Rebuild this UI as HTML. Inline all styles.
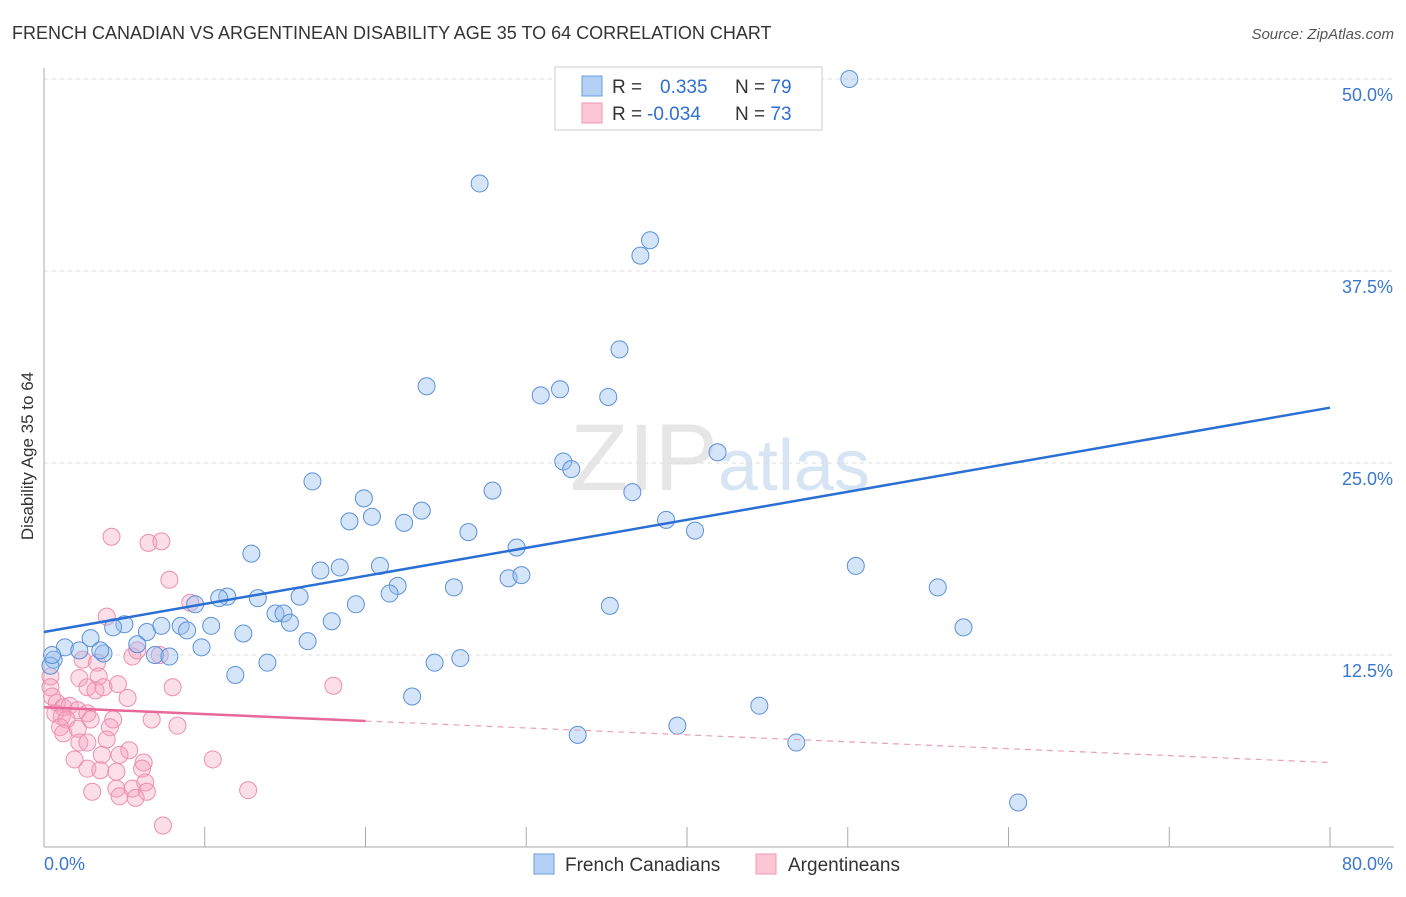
<!DOCTYPE html>
<html><head><meta charset="utf-8"><style>
body{margin:0;background:#fff;font-family:"Liberation Sans",sans-serif;}
svg text{font-family:"Liberation Sans",sans-serif;}
</style></head><body>
<svg id="chart" width="1406" height="892" xmlns="http://www.w3.org/2000/svg">
<text x="12" y="39" font-size="18" fill="#333">FRENCH CANADIAN VS ARGENTINEAN DISABILITY AGE 35 TO 64 CORRELATION CHART</text>
<text x="1394" y="39" font-size="15" fill="#555" text-anchor="end" font-style="italic">Source: ZipAtlas.com</text>
<text x="720" y="490" font-size="95" text-anchor="middle" fill="#e6e6e6" font-family="Liberation Serif">ZIP<tspan fill="#d6e4f4" font-family="Liberation Sans" font-size="72">atlas</tspan></text>
<g id="grid"></g>
<g id="axes"></g>
<g id="marks"></g>
<text transform="translate(33,456) rotate(-90)" font-size="17" fill="#333" text-anchor="middle">Disability Age 35 to 64</text>
<g>
<rect x="555" y="67" width="267" height="63" fill="#fff" stroke="#ccc"/>
<rect x="582" y="76" width="20" height="20" fill="#b5d0f5" stroke="#6d9de0"/>
<rect x="582" y="103" width="20" height="20" fill="#fbc6d6" stroke="#ef9ab5"/>
<text x="612" y="93" font-size="19" fill="#333">R =  <tspan fill="#2f6fd0" x="660">0.335</tspan><tspan fill="#333" x="735">N = </tspan><tspan fill="#2f6fd0">79</tspan></text>
<text x="612" y="120" font-size="19" fill="#333">R = <tspan fill="#2f6fd0" x="647">-0.034</tspan><tspan fill="#333" x="735">N = </tspan><tspan fill="#2f6fd0">73</tspan></text>
</g>
<g>
<rect x="534" y="854" width="20" height="20" fill="#b5d0f5" stroke="#6d9de0"/>
<text x="565" y="871" font-size="19" fill="#333">French Canadians</text>
<rect x="756" y="854" width="20" height="20" fill="#fbc6d6" stroke="#ef9ab5"/>
<text x="788" y="871" font-size="19" fill="#333">Argentineans</text>
</g>
</svg>
<script>
const xTicks=[0,10,20,30,40,50,60,70,80];
const yTicks=[12.5,25,37.5,50];
const yTickLabels=["12.5%","25.0%","37.5%","50.0%"];
const blueX=[50.1,27.1,37.7,37.1,35.8,23.8,30.9,32.1,35.1,41.9,32.3,32.8,16.7,27.9,36.6,19.9,20.4,19.0,23.5,22.4,26.4,38.7,40.5,29.4,12.9,17.2,18.4,20.9,28.9,29.7,22.0,21.5,25.5,50.5,55.6,11.4,10.9,13.3,15.9,9.4,19.4,35.2,14.4,14.9,15.3,17.9,16.4,5.0,4.3,6.4,7.3,8.5,8.9,10.4,12.4,9.8,2.9,1.3,2.2,3.7,6.9,7.8,3.5,5.8,13.9,11.9,24.3,25.9,0.6,0.4,22.9,44.5,39.4,33.2,46.8,60.6,57.2,0.5];
const blueY=[50.0,43.2,39.5,38.5,32.4,30.0,29.4,29.8,29.3,25.7,25.1,24.6,23.8,23.2,23.1,22.7,21.5,21.2,21.9,21.1,20.5,21.3,20.6,19.5,19.1,18.0,18.2,18.3,17.5,17.7,17.0,16.5,16.9,18.3,16.9,16.3,16.2,16.2,16.3,15.8,15.8,15.7,15.2,15.2,14.6,14.7,13.4,14.5,14.3,14.0,14.4,14.4,14.1,14.4,13.9,13.0,13.6,13.0,12.8,12.6,12.5,12.4,12.8,13.2,12.0,11.2,12.0,12.3,12.2,11.8,9.8,9.2,7.9,7.3,6.8,2.9,14.3,12.5];
const pinkX=[4.2,6.5,7.3,7.8,9.1,3.9,2.4,3.3,2.2,3.4,2.7,3.2,3.7,4.6,5.2,8.0,5.5,5.8,0.4,0.4,0.5,0.8,1.2,1.6,2.1,0.7,1.1,1.4,2.7,2.9,4.3,4.1,6.7,8.3,1.0,1.2,2.1,3.9,2.2,2.7,5.3,4.7,3.6,1.9,2.7,3.5,4.5,6.2,6.1,10.5,3.0,4.5,5.5,6.3,6.4,4.7,5.7,12.7,7.4,18.0,7.2];
const pinkY=[20.2,19.8,19.9,17.4,15.9,15.0,12.2,12.0,11.0,11.1,10.4,10.2,10.4,10.6,9.7,10.4,12.4,12.8,11.1,10.4,9.8,9.4,9.1,9.2,8.9,8.7,8.5,8.3,8.7,8.3,8.3,7.8,8.3,7.9,7.8,7.4,7.7,7.0,6.8,6.8,6.3,6.0,6.0,5.7,5.1,5.0,4.9,5.5,5.1,5.7,3.6,3.8,3.8,4.2,3.6,3.3,3.2,3.7,1.4,10.5,12.5];
const blueTrend=[14.0,28.6];
const pinkTrend=[9.1,5.5];
const pinkSolidEnd=20;

const X=v=>44+v*(1286/80);
const Y=v=>847-v*(768/50);
const NS="http://www.w3.org/2000/svg";
function mk(parent,tag,attrs){const e=document.createElementNS(NS,tag);for(const k in attrs)e.setAttribute(k,attrs[k]);parent.appendChild(e);return e;}
const grid=document.getElementById('grid'),axes=document.getElementById('axes'),marks=document.getElementById('marks');
yTicks.forEach((t,i)=>{
 const l=mk(grid,'line',{x1:44,x2:1394,y1:Y(t),y2:Y(t),stroke:'#ddd','stroke-dasharray':'4,4'});
 
 
 const tx=mk(axes,'text',{x:1393,y:Y(t)+22,'font-size':18,fill:'#3a78d0','text-anchor':'end'});
 tx.textContent=yTickLabels[i];
 
 
});
const al=mk(axes,'line',{x1:44,x2:44,y1:68,y2:847,stroke:'#aaa'});


const bl=mk(axes,'line',{x1:44,x2:1394,y1:847,y2:847,stroke:'#aaa'});


xTicks.forEach(t=>{
 const l=mk(axes,'line',{x1:X(t),x2:X(t),y1:827,y2:847,stroke:'#aaa'});
 
 
});
const xl0=mk(axes,'text',{x:44,y:870,'font-size':18,fill:'#3a78d0'});xl0.textContent='0.0%';


const xl1=mk(axes,'text',{x:1393,y:870,'font-size':18,fill:'#3a78d0','text-anchor':'end'});xl1.textContent='80.0%';


pinkX.forEach((v,i)=>{
 const c=mk(marks,'circle',{cx:X(v),cy:Y(pinkY[i]),r:8.5,fill:'rgba(245,160,190,0.35)',stroke:'#ec8fae','stroke-width':1});
 
 
});
blueX.forEach((v,i)=>{
 const c=mk(marks,'circle',{cx:X(v),cy:Y(blueY[i]),r:8.5,fill:'rgba(150,190,240,0.4)',stroke:'#5b90d8','stroke-width':1});
 
 
});
const bt=mk(marks,'line',{x1:X(0),y1:Y(blueTrend[0]),x2:X(80),y2:Y(blueTrend[1]),stroke:'#2a6fd4','stroke-width':2.5});


const pm=pinkTrend[0]+(pinkTrend[1]-pinkTrend[0])*pinkSolidEnd/80;
const ps=mk(marks,'line',{x1:X(0),y1:Y(pinkTrend[0]),x2:X(pinkSolidEnd),y2:Y(pm),stroke:'#e8689a','stroke-width':2.5});


const pd=mk(marks,'line',{x1:X(pinkSolidEnd),y1:Y(pm),x2:X(80),y2:Y(pinkTrend[1]),stroke:'#e8a0bb','stroke-width':1.2,'stroke-dasharray':'6,5'});


</script>
</body></html>
